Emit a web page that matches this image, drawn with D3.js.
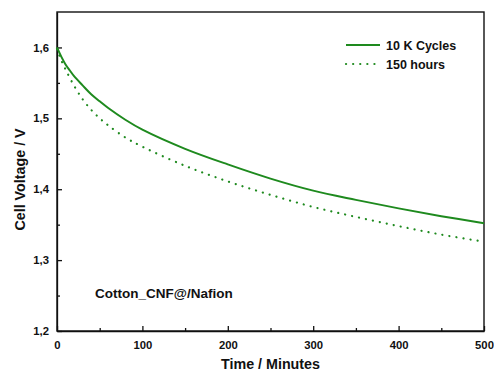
<!DOCTYPE html>
<html>
<head>
<meta charset="utf-8">
<script src="https://cdn.jsdelivr.net/npm/d3@7"></script>
<style>
  body { margin: 0; background: #fff; }
  svg text { font-family: "Liberation Sans", Arial, sans-serif; font-weight: bold; fill: #111; }
</style>
</head>
<body>
<svg width="494" height="373"></svg>
<script>
const width = 494, height = 373;
const margin = { left: 57, right: 10, top: 12, bottom: 42 };

// data
const time_cycles = [0, 5, 10, 15, 20, 30, 40, 50, 60, 80, 100, 150, 200, 250, 300, 350, 400, 450, 500];
const volt_cycles = [1.600, 1.587, 1.576, 1.5675, 1.5595, 1.5465, 1.534, 1.524, 1.5145, 1.498, 1.484, 1.457, 1.435, 1.415, 1.398, 1.385, 1.373, 1.362, 1.352];
const time_hours = [0, 5, 10, 20, 30, 40, 50, 60, 80, 100, 150, 200, 250, 300, 350, 400, 450, 500];
const volt_hours = [1.598, 1.582, 1.569, 1.546, 1.527, 1.512, 1.500, 1.490, 1.473, 1.460, 1.433, 1.411, 1.392, 1.375, 1.361, 1.348, 1.336, 1.326];
const x_ticks = [0, 100, 200, 300, 400, 500];
const y_ticks = [1.2, 1.3, 1.4, 1.5, 1.6];
const series_names = ["10 K Cycles", "150 hours"];

const green = "#1e8a1e";

const svg = d3.select("svg");

const x_scale = d3.scaleLinear().domain([0, 500]).range([margin.left, width - margin.right]);
const y_scale = d3.scaleLinear().domain([1.2, 1.65]).range([height - margin.bottom, margin.top]);

const fmt = d => d3.format(".1f")(d).replace(".", ",");

// x axis (ticks inside)
svg.append("g")
  .attr("transform", `translate(0,${y_scale(1.2)})`)
  .call(d3.axisBottom(x_scale).tickValues(x_ticks).tickSizeInner(-5).tickSizeOuter(0).tickPadding(10).tickFormat(d3.format("d")));
svg.append("g")
  .attr("transform", `translate(0,${y_scale(1.2)})`)
  .call(d3.axisBottom(x_scale).tickValues([50, 150, 250, 350, 450]).tickSize(-3).tickFormat(""))
  .call(g => g.select(".domain").remove());

// y axis (ticks inside)
svg.append("g")
  .attr("transform", `translate(${x_scale(0)},0)`)
  .call(d3.axisLeft(y_scale).tickValues(y_ticks).tickSizeInner(-5).tickSizeOuter(0).tickPadding(8).tickFormat(fmt));
svg.append("g")
  .attr("transform", `translate(${x_scale(0)},0)`)
  .call(d3.axisLeft(y_scale).tickValues([1.25, 1.35, 1.45, 1.55]).tickSize(-3).tickFormat(""))
  .call(g => g.select(".domain").remove());

svg.selectAll(".tick text").style("font-size", "11.3px");
svg.selectAll(".tick line, .domain").attr("stroke", "#111").attr("stroke-width", 1.3);

// frame
svg.append("rect")
  .attr("x", x_scale(0))
  .attr("y", y_scale(1.65))
  .attr("width", x_scale(500) - x_scale(0))
  .attr("height", y_scale(1.2) - y_scale(1.65))
  .attr("fill", "none")
  .attr("stroke", "#111")
  .attr("stroke-width", 1.4);

const line = d3.line()
  .x(d => x_scale(d[0]))
  .y(d => y_scale(d[1]))
  .curve(d3.curveCatmullRom.alpha(0.5));

svg.append("path")
  .attr("fill", "none")
  .attr("stroke", green)
  .attr("stroke-width", 2)
  .attr("d", line(d3.zip(time_cycles, volt_cycles)));

svg.append("path")
  .attr("fill", "none")
  .attr("stroke", green)
  .attr("stroke-width", 2.2)
  .attr("stroke-linecap", "round")
  .attr("stroke-dasharray", "0.1,7")
  .attr("d", line(d3.zip(time_hours, volt_hours)));

// legend
const legend = svg.append("g").attr("transform", "translate(346,45)");
series_names.forEach((name, i) => {
  legend.append("line")
    .attr("x1", 0).attr("x2", 34)
    .attr("y1", i * 19).attr("y2", i * 19)
    .attr("stroke", green)
    .attr("stroke-width", i === 0 ? 2 : 2.2)
    .attr("stroke-linecap", i === 0 ? "butt" : "round")
    .attr("stroke-dasharray", i === 0 ? null : "0.1,7");
  legend.append("text")
    .attr("x", 40).attr("y", i * 19 + 4.5)
    .style("font-size", "12.5px")
    .text(name);
});

// annotation
svg.append("text")
  .attr("x", 95).attr("y", 298)
  .style("font-size", "13.5px")
  .text("Cotton_CNF@/Nafion");

// axis titles
svg.append("text")
  .attr("x", (x_scale(0) + x_scale(500)) / 2)
  .attr("y", 369)
  .attr("text-anchor", "middle")
  .style("font-size", "14.3px")
  .text("Time / Minutes");

svg.append("text")
  .attr("text-anchor", "middle")
  .attr("transform", `translate(25,${(y_scale(1.2) + y_scale(1.65)) / 2 + 8}) rotate(-90)`)
  .style("font-size", "14.3px")
  .text("Cell Voltage / V");
</script>
</body>
</html>
